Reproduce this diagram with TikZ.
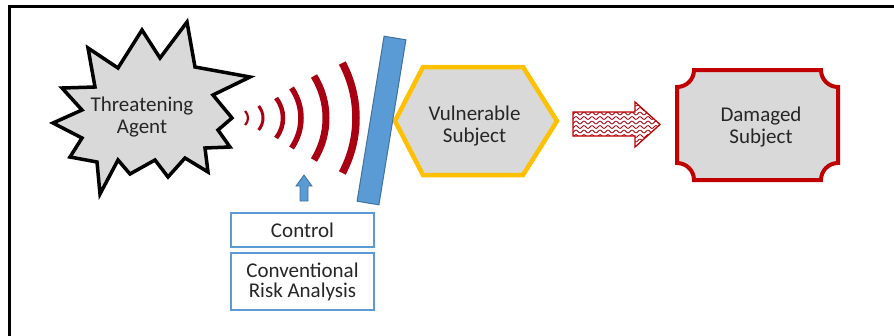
\documentclass[tikz,border=0pt]{standalone}
\usepackage{fontspec}
\setmainfont{Carlito}
\definecolor{txt}{RGB}{38,38,38}
\definecolor{grayfill}{RGB}{217,217,217}
\definecolor{gold}{RGB}{255,192,0}
\definecolor{dred}{RGB}{192,0,0}
\definecolor{wavered}{RGB}{168,0,18}
\definecolor{blueA}{RGB}{91,155,213}
\definecolor{blueB}{RGB}{65,113,156}
\begin{document}
\begin{tikzpicture}[x=1pt,y=-1pt,
  lbl/.style={font=\fontsize{21}{22}\selectfont, text=txt, align=center, inner sep=0pt},
  boxstyle/.style={draw=blueA, line width=2.4pt, fill=white},
  wavearc/.style={draw=wavered, line cap=butt},
  frameline/.style={draw=black, line width=3pt}
]
\useasboundingbox (0,0) rectangle (894,335);
\fill[white] (0,0) rectangle (894,335);
% frame
\draw[frameline] (9.5,340) -- (9.5,6.5) -- (900,6.5);

% explosion star
\draw[line width=3.5pt, fill=grayfill, line join=miter, miter limit=10]
 (187,22) -- (195,67) -- (250,77) -- (213,95) -- (232,118) -- (218,130)
 -- (230,147) -- (205,148) -- (208,172) -- (185,158) -- (168,177)
 -- (155,160) -- (130,174) -- (118,160) -- (100,194) -- (97,162)
 -- (70,157) -- (82,138) -- (53,123) -- (82,110) -- (62,88)
 -- (95,87) -- (88,48) -- (118,68) -- (142,30) -- (160,58) -- cycle;
\node[lbl] (ta) at (142,117) {Threatening\\Agent};

% waves
\foreach \xr/\h/\a/\w in {248/7/45/2.2, 263/12/40/3, 283/20/38/4.5, 301/30/35/5.5, 326/42/32/7, 356/55/28/7.5}{
  \pgfmathsetmacro{\r}{\h/sin(\a)}
  \draw[wavearc, line width=\w pt] ([shift={(-\a:\r)}]\xr-\r,118) arc[start angle=-\a, end angle=\a, radius=\r];
}

% hexagon
\draw[draw=gold, line width=4.5pt, fill=grayfill, line join=miter]
 (395,121) -- (423,67) -- (523,67) -- (557,121) -- (523,175) -- (423,175) -- cycle;
\node[lbl] (vs) at (474.5,126.5) {Vulnerable\\Subject};

% blue bar
\draw[draw=blueB, line width=1pt, fill=blueA]
 (384.1,36.2) -- (405.9,39.8) -- (378.9,204.8) -- (357.1,201.2) -- cycle;

% striped arrow
\begin{scope}
\clip (573,112) -- (635,112) -- (635,102) -- (660,124.5) -- (635,147) -- (635,136) -- (573,136) -- cycle;
\fill[white] (570,100) rectangle (662,150);
\foreach \yy in {100,104.5,...,150}{
  \draw[wavered, line width=0.8pt, domain=0:92, samples=120, smooth] plot ({570+\x}, {\yy + 1.4*sin(\x*45)});
}
\end{scope}
\draw[dred, line width=1.3pt, line join=miter]
 (573,112) -- (635,112) -- (635,102) -- (660,124.5) -- (635,147) -- (635,136) -- (573,136) -- cycle;

% plaque
\draw[draw=dred, line width=4pt, fill=grayfill]
 (694,70) -- (821,70) arc[start angle=180, end angle=90, radius=17]
 -- (838,163) arc[start angle=270, end angle=180, radius=17]
 -- (694,180) arc[start angle=0, end angle=-90, radius=17]
 -- (677,87) arc[start angle=90, end angle=0, radius=17] -- cycle;
\node[lbl] (ds) at (761,127) {Damaged\\Subject};

% control boxes
\node[boxstyle, minimum width=143pt, minimum height=34pt, inner sep=0pt] (ctrlbox) at (302.5,230) {};
\node[lbl] (ctrl) at (ctrlbox.center) {Control};
\node[boxstyle, minimum width=143pt, minimum height=57pt, inner sep=0pt] (crabox) at (302.5,281.5) {};
\node[lbl, font=\fontsize{21}{20}\selectfont] (cra) at (crabox.center) {Conventional\\Risk Analysis};

% small up arrow
\draw[draw=blueB, line width=0.8pt, fill=blueA, line join=miter]
 (300,201) -- (300,186) -- (296,186) -- (304,175) -- (312,186) -- (308,186) -- (308,201) -- cycle;
\end{tikzpicture}
\end{document}
